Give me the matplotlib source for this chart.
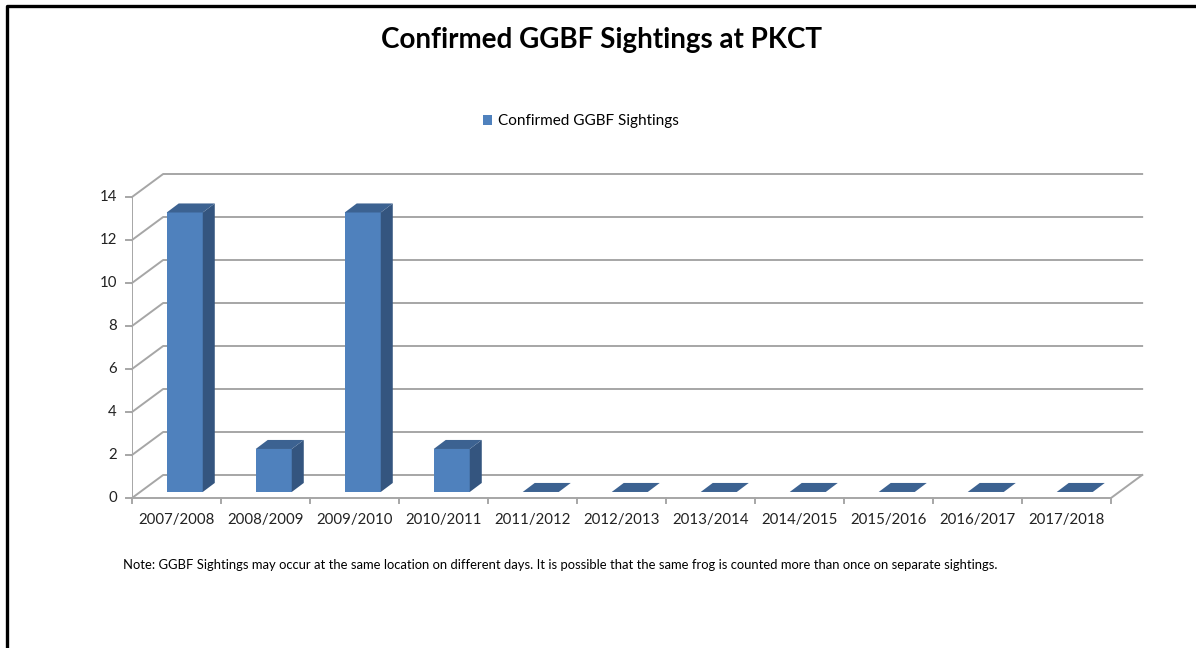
import matplotlib
matplotlib.use("Agg")
import matplotlib.pyplot as plt
from matplotlib.patches import Polygon
from matplotlib.lines import Line2D

plt.rcParams['font.family'] = ['Lato', 'DejaVu Sans']

seasons = ["2007/2008", "2008/2009", "2009/2010", "2010/2011", "2011/2012", "2012/2013",
           "2013/2014", "2014/2015", "2015/2016", "2016/2017", "2017/2018"]
sightings = [13, 2, 13, 2, 0, 0, 0, 0, 0, 0, 0]
y_ticks = [0, 2, 4, 6, 8, 10, 12, 14]

title = "Confirmed GGBF Sightings at PKCT"
series_name = "Confirmed GGBF Sightings"
note = ("Note: GGBF Sightings may occur at the same location on different days. It is possible "
        "that the same frog is counted more than once on separate sightings.")

FRONT = "#4F81BD"
SIDE = "#34557F"
TOP = "#3C6291"
GRID = "#A6A6A6"

# 3d look: wall depth and bar depth in data units
WALL_DX, WALL_DY = 0.35, 1.07
BAR_DX, BAR_DY = 0.135, 0.42
BAR_LIFT = 0.28
BAR_LEFT, BAR_W = 0.39, 0.405

fig = plt.figure(figsize=(11.96, 6.48), dpi=100)
ax = fig.add_axes([0.11037, 0.18171, 0.85577, 0.56404])
ax.set_xlim(0, 11.5)
ax.set_ylim(-1.5, 15.5)
ax.axis("off")

n = len(seasons)

# gridlines: side wall diagonal + back wall horizontal
for v in y_ticks:
    ax.plot([0, WALL_DX, n + WALL_DX], [v, v + WALL_DY, v + WALL_DY],
            color=GRID, lw=1.4, clip_on=False, zorder=1)
    ax.plot([-0.07, 0], [v, v], color=GRID, lw=1.4, clip_on=False, zorder=1)
    ax.text(-0.17, v, str(v), ha="right", va="center", fontsize=10.8,
            color="#222222")

# front y axis
ax.plot([0, 0], [0, y_ticks[-1]], color=GRID, lw=1.4, zorder=1)
# floor front edge and right edge
ax.plot([0, n, n + WALL_DX], [0, 0, WALL_DY], color=GRID, lw=1.4, clip_on=False, zorder=1)
for k in range(n + 1):
    ax.plot([k, k], [0, -0.25], color=GRID, lw=1.4, clip_on=False, zorder=1)
for k, s in enumerate(seasons):
    ax.text(k + 0.5, -1.02, s, ha="center", va="center", fontsize=10.8, color="#222222")

# bars
xs = [k + BAR_LEFT for k in range(n)]
ax.bar(xs, sightings, width=BAR_W, bottom=BAR_LIFT, align="edge", color=FRONT,
       label=series_name, zorder=3)
for x0, v in zip(xs, sightings):
    x1 = x0 + BAR_W
    b = BAR_LIFT
    t = BAR_LIFT + v
    if v > 0:
        ax.add_patch(Polygon([(x1, b), (x1 + BAR_DX, b + BAR_DY), (x1 + BAR_DX, t + BAR_DY), (x1, t)],
                             closed=True, facecolor=SIDE, edgecolor="none", zorder=3))
    ax.add_patch(Polygon([(x0, t), (x1, t), (x1 + BAR_DX, t + BAR_DY), (x0 + BAR_DX, t + BAR_DY)],
                         closed=True, facecolor=TOP, edgecolor="none", zorder=3))

fig.text(0.503, 0.938, title, ha="center", va="center", fontsize=20, fontweight="bold")
fig.legend(loc="center", bbox_to_anchor=(0.486, 0.813), frameon=False, fontsize=11,
           handlelength=0.6, handleheight=0.6, handletextpad=0.4)
fig.text(0.103, 0.128, note, ha="left", va="center", fontsize=9.4)

# outer frame (left and top edges visible)
fig.add_artist(Line2D([7 / 1196, 7 / 1196, 1.0], [0.0, 1 - 6 / 648, 1 - 6 / 648],
                      transform=fig.transFigure, color="black", lw=2.4))

fig.savefig("out.png", dpi=100)
